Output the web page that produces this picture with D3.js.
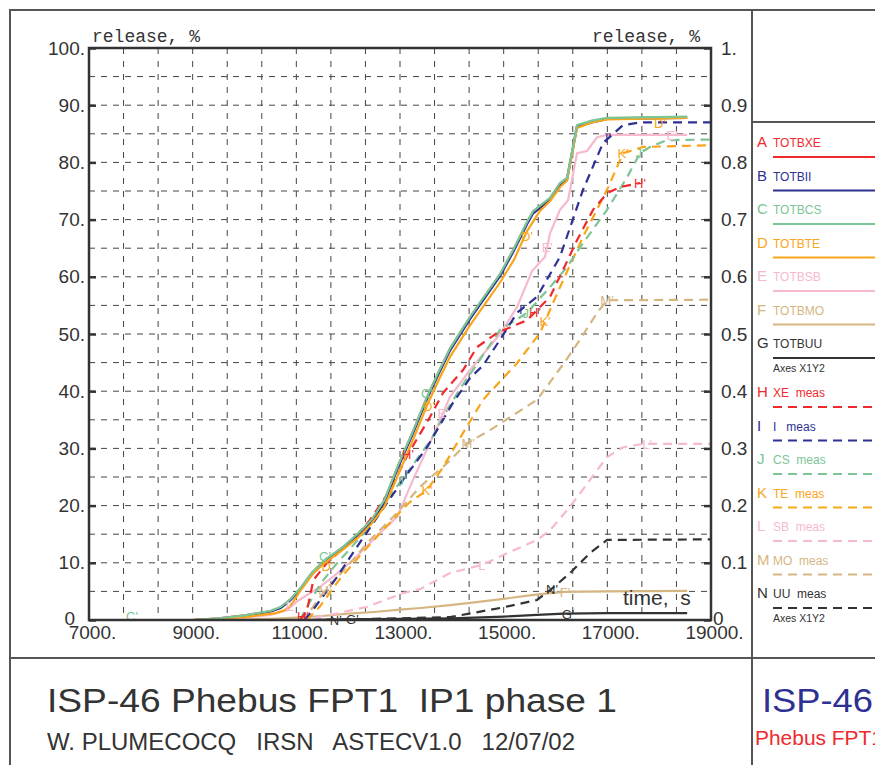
<!DOCTYPE html>
<html>
<head>
<meta charset="utf-8">
<script src="https://cdn.jsdelivr.net/npm/d3@7/dist/d3.min.js"></script>
<style>
  body { margin: 0; background: #fff; }
  svg text { white-space: pre; }
</style>
</head>
<body>
<svg id="chart" width="875" height="765"></svg>
<script>
  // ---- data: [time s, release %] (G and N: fraction, right axis)
  const totbxe = [[7000,0],[9000,0],[9500,0.3],[10000,0.8],[10500,1.5],[10700,2.2],[10880,3.5],[11070,5.4],[11300,8.2],[11550,10.4],[11900,12.7],[12200,15.1],[12450,17.4],[12700,20.9],[12960,26.9],[13250,32.9],[13520,38.9],[13750,43.4],[13965,47.4],[14350,52.9],[14930,60.4],[15200,64.9],[15451,69.5],[15570,71.4],[15895,73.7],[16087,76.3],[16222,77.2],[16415,86.4],[16700,87.2],[17000,87.7],[18540,87.9]];
  const totbii = [[7000,0],[9000,0],[9500,0.2],[10000,0.7],[10500,1.5],[10700,2.1],[10880,3.4],[11070,5.2],[11300,8.0],[11550,10.2],[11900,12.5],[12200,14.9],[12450,17.1],[12700,20.6],[12960,26.6],[13250,32.6],[13520,38.6],[13750,43.1],[13965,47.1],[14350,52.6],[14930,60.1],[15200,64.6],[15451,69.2],[15570,71.1],[15895,73.4],[16087,76.0],[16222,76.9],[16415,86.2],[16700,87.0],[17000,87.6],[18540,87.8]];
  const totbcs = [[7000,0],[9000,0],[9500,0.3],[10000,0.8],[10500,1.6],[10700,2.3],[10880,3.6],[11070,5.5],[11300,8.3],[11550,10.5],[11900,12.8],[12200,15.2],[12450,17.5],[12700,21],[12960,27],[13250,33],[13520,39],[13750,43.5],[13965,47.5],[14350,53],[14930,60.5],[15200,65],[15451,69.6],[15570,71.5],[15895,73.8],[16087,76.4],[16222,77.3],[16415,86.5],[16700,87.3],[17000,87.8],[18540,88]];
  const totbte = [[7000,0],[9000,0],[10000,0.5],[10600,1.2],[10750,1.6],[10880,2.4],[11070,5],[11330,8.2],[11550,10],[11900,12.3],[12200,14.5],[12450,16.8],[12700,19.8],[12960,25.3],[13250,31.5],[13520,37.5],[13750,42],[13965,46],[14350,51.5],[14930,59],[15200,63],[15451,68],[15700,71.5],[15900,73.3],[16100,75.8],[16222,76.8],[16415,86],[16700,87],[17000,87.5],[18540,87.8]];
  const totbsb = [[7000,0],[9000,0],[10000,0.4],[10500,0.9],[10820,1.7],[11000,3.2],[11457,5.8],[11700,7.5],[12094,10.5],[12615,15.2],[12943,18],[13251,24.5],[13714,33.7],[13965,39],[14351,43.7],[14930,50],[15258,54.7],[15547,61],[15798,63.5],[15895,67.6],[16087,71.7],[16242,73.4],[16415,81.6],[16608,82],[16801,84.4],[16994,84.8],[18540,84.8]];
  const totbmo = [[7000,0],[9500,0],[10500,0.2],[11000,0.4],[11500,0.7],[12000,1.1],[12500,1.4],[13000,1.8],[13400,2.1],[13965,2.6],[14351,3],[15000,3.7],[15500,4.3],[15895,4.7],[16164,4.9],[17000,5],[18540,5.1]];
  const totbuu = [[7000,0],[11000,0],[12000,0.001],[13000,0.002],[14000,0.003],[15000,0.006],[15644,0.009],[16164,0.011],[17000,0.012],[18540,0.012]];
  const xeMeas = [[11070,0],[11200,1.5],[11330,7],[11592,10],[12094,14],[12422,17.5],[12808,22.7],[13155,29],[13579,35.5],[13830,39.7],[14216,43.7],[14486,47.7],[14872,50.2],[15451,52.4],[15895,56.5],[16145,61.2],[16415,66.4],[16724,71.7],[16994,74.6],[17245,75.7],[17631,76.4]];
  const iMeas = [[11150,0],[11300,1.5],[11785,7.5],[12171,12.8],[12615,18.7],[13058,24.5],[13521,30.2],[14023,38],[14351,42.3],[14602,44.5],[14930,49],[15258,53.7],[15644,56.5],[16087,63.5],[16531,75.2],[16917,83.4],[17300,86.5],[17630,87],[19000,87]];
  const csMeas = [[11070,0],[11250,3],[11478,6.5],[11727,9.3],[12306,15.2],[12750,21],[13135,25.7],[13598,31.5],[13907,36.7],[14177,40.7],[14370,43.2],[14930,50.7],[15451,53.7],[15895,58.2],[16222,61.7],[16531,65.9],[16994,71.7],[17380,77.4],[17630,81.6],[17823,82.7],[18151,83.9],[19000,84]];
  const teMeas = [[11200,0],[11450,2.3],[11825,7],[12268,11.7],[12731,16.3],[13175,20.5],[13521,22.7],[13830,26.7],[14216,32.7],[14602,38.5],[15258,44.9],[15702,50.2],[16087,58.2],[16531,67],[16994,75.2],[17303,81.6],[17688,82.7],[19000,83]];
  const sbMeas = [[11070,0],[11650,0.9],[12364,2.3],[13058,4.7],[13386,5.4],[13965,8.2],[14351,9.1],[14602,9.7],[15100,11.8],[15644,14],[15895,15.7],[16280,19.8],[16666,24.5],[16994,28.5],[17303,30.2],[17688,30.8],[19000,30.8]];
  const moMeas = [[11070,0],[11300,2],[11553,5.2],[11978,9.3],[12422,14],[12943,18.7],[13386,23.3],[13907,27.4],[14293,30.9],[14737,33.2],[15644,38.5],[16164,44.9],[16473,49],[16801,53.7],[16994,55.9],[19000,56]];
  const uuMeas = [[11300,0],[12500,0.002],[13500,0.004],[13965,0.005],[14930,0.021],[15644,0.035],[15895,0.052],[16280,0.082],[16666,0.117],[16994,0.14],[19000,0.141]];

  // tick values
  const xTicks = [7000, 9000, 11000, 13000, 15000, 17000, 19000];
  const yTicks = [0, 10, 20, 30, 40, 50, 60, 70, 80, 90, 100];
  const y2Ticks = [0, 0.1, 0.2, 0.3, 0.4, 0.5, 0.6, 0.7, 0.8, 0.9, 1];

  // series: letter, legend name, data, colour, dashed, right axis, marker times
  const series = [
    { key: "A", name: "TOTBXE", data: totbxe, color: "#ee2a2e", dash: false, y2: false, marks: [] },
    { key: "B", name: "TOTBII", data: totbii, color: "#2e3192", dash: false, y2: false, marks: [] },
    { key: "C", name: "TOTBCS", data: totbcs, color: "#7cc595", dash: false, y2: false, marks: [7830, 11553, 13521] },
    { key: "D", name: "TOTBTE", data: totbte, color: "#f9a51a", dash: false, y2: false, marks: [11600, 13560, 15451, 18017] },
    { key: "E", name: "TOTBSB", data: totbsb, color: "#f6b9cf", dash: false, y2: false, marks: [10900, 13830, 15840, 18248] },
    { key: "F", name: "TOTBMO", data: totbmo, color: "#d5b682", dash: false, y2: false, marks: [16184] },
    { key: "G", name: "TOTBUU", data: totbuu, color: "#333333", dash: false, y2: true, marks: [12080, 16240] },
    { key: "H", name: "XE  meas", data: xeMeas, color: "#ee2a2e", dash: true, y2: false, marks: [11129, 13155, 15605, 17631] },
    { key: "I", name: "I   meas", data: iMeas, color: "#2e3192", dash: true, y2: false, marks: [13135, 15354, 17014] },
    { key: "J", name: "CS  meas", data: csMeas, color: "#7cc595", dash: true, y2: false, marks: [13039, 15451, 17630] },
    { key: "K", name: "TE  meas", data: teMeas, color: "#f9a51a", dash: true, y2: false, marks: [13521, 15798, 17303] },
    { key: "L", name: "SB  meas", data: sbMeas, color: "#f6b9cf", dash: true, y2: false, marks: [14602, 17766] },
    { key: "M", name: "MO  meas", data: moMeas, color: "#d5b682", dash: true, y2: false, marks: [11553, 14313, 16994] },
    { key: "N", name: "UU  meas", data: uuMeas, color: "#333333", dash: true, y2: true, marks: [11760, 15933] }
  ];

  const svg = d3.select("#chart");
  const frame = "#555";

  // plot box
  const pLeft = 89, pRight = 711, pTop = 48, pBottom = 620;
  const x = d3.scaleLinear().domain([7000, 19000]).range([pLeft, pRight]);
  const y = d3.scaleLinear().domain([0, 100]).range([pBottom, pTop]);
  const y2 = d3.scaleLinear().domain([0, 1]).range([pBottom, pTop]);

  // outer frame
  svg.append("rect").attr("x", 10).attr("y", 10).attr("width", 880).attr("height", 770)
    .attr("fill", "none").attr("stroke", frame).attr("stroke-width", 2);
  svg.append("line").attr("x1", 752).attr("x2", 752).attr("y1", 10).attr("y2", 765)
    .attr("stroke", frame).attr("stroke-width", 2);
  svg.append("line").attr("x1", 10).attr("x2", 875).attr("y1", 658).attr("y2", 658)
    .attr("stroke", frame).attr("stroke-width", 2);
  svg.append("line").attr("x1", 752).attr("x2", 875).attr("y1", 122).attr("y2", 122)
    .attr("stroke", frame).attr("stroke-width", 2);

  // grid
  const gx = d3.range(1, 18).map(i => 7000 + i * 2000 / 3);
  const gy = d3.range(5, 100, 5);
  svg.append("g").selectAll("line").data(gx).join("line")
    .attr("x1", d => x(d)).attr("x2", d => x(d)).attr("y1", pTop).attr("y2", pBottom)
    .attr("stroke", "#444").attr("stroke-width", 1).attr("stroke-dasharray", "6,7");
  svg.append("g").selectAll("line").data(gy).join("line")
    .attr("x1", pLeft).attr("x2", pRight).attr("y1", d => y(d)).attr("y2", d => y(d))
    .attr("stroke", "#444").attr("stroke-width", 1).attr("stroke-dasharray", "6,6");

  // curves
  const line = d3.line();
  const drawOrder = ["G", "F", "E", "N", "M", "L", "K", "J", "I", "H", "A", "B", "D", "C"];
  drawOrder.forEach(k => {
    const s = series.find(d => d.key === k);
    const ys = s.y2 ? y2 : y;
    svg.append("path")
      .attr("d", line(s.data.map(p => [x(p[0]), ys(p[1])])))
      .attr("fill", "none").attr("stroke", s.color).attr("stroke-width", 2.2)
      .attr("stroke-dasharray", s.dash ? "9,6" : null);
  });

  // curve markers (letters on the curves)
  function valueAt(data, t) {
    for (let i = 1; i < data.length; i++) {
      if (t <= data[i][0]) {
        const a = data[i - 1], b = data[i];
        return a[1] + (b[1] - a[1]) * (t - a[0]) / (b[0] - a[0]);
      }
    }
    return data[data.length - 1][1];
  }
  // C letters sit just above the D letters
  const markLift = { C: -4, D: 5 };
  series.forEach(s => {
    const ys = s.y2 ? y2 : y;
    const lift = markLift[s.key] || 0;
    svg.append("g").selectAll("text").data(s.marks).join("text")
      .attr("x", t => x(t)).attr("y", t => ys(valueAt(s.data, t)) + 5 + lift)
      .attr("text-anchor", "middle")
      .attr("font-family", "Liberation Sans Narrow, Arial Narrow, sans-serif")
      .attr("font-size", 13).attr("fill", s.color)
      .text(s.key + "'");
  });

  // plot box border
  svg.append("rect").attr("x", pLeft).attr("y", pTop).attr("width", pRight - pLeft).attr("height", pBottom - pTop)
    .attr("fill", "none").attr("stroke", "#333").attr("stroke-width", 2.5);

  // axes
  const tickFont = "Liberation Sans, Arial, sans-serif";
  const ax = svg.append("g").attr("transform", `translate(0,${pBottom})`)
    .call(d3.axisBottom(x).tickValues(xTicks).tickSize(0).tickPadding(6).tickFormat(d => d + "."));
  const ay = svg.append("g").attr("transform", `translate(${pLeft},0)`)
    .call(d3.axisLeft(y).tickValues(yTicks).tickSize(6).tickPadding(-2).tickFormat(d => d === 0 ? "0" : d + "."));
  const ay2 = svg.append("g").attr("transform", `translate(${pRight},0)`)
    .call(d3.axisRight(y2).tickValues(y2Ticks).tickSize(-7).tickPadding(10)
      .tickFormat(d => d === 0 ? "0" : d === 1 ? "1." : d.toFixed(1)));
  [ax, ay, ay2].forEach(g => {
    g.select(".domain").remove();
    g.selectAll(".tick line").attr("stroke", "#333").attr("stroke-width", 2.5);
    g.selectAll("text").attr("font-family", tickFont).attr("font-size", 19).attr("fill", "#333");
  });
  ay.selectAll(".tick line").attr("x2", 7);
  ax.selectAll("text").attr("dx", 3);
  ay.selectAll("text").filter(d => d === 0).attr("dx", -10).attr("dy", "0.25em");
  ay2.selectAll("text").filter(d => d === 0).attr("dx", -8).attr("dy", "0.25em");

  // axis titles
  svg.append("text").attr("x", 92).attr("y", 42).attr("font-family", "Liberation Mono, monospace")
    .attr("font-size", 18).attr("fill", "#333").text("release, %");
  svg.append("text").attr("x", 700).attr("y", 42).attr("text-anchor", "end")
    .attr("font-family", "Liberation Mono, monospace").attr("font-size", 18).attr("fill", "#333").text("release, %");
  svg.append("text").attr("x", 623).attr("y", 605).attr("font-family", tickFont)
    .attr("font-size", 21).attr("fill", "#333").text("time,  s");

  // legend
  const legFont = "Liberation Sans, Arial, sans-serif";
  series.forEach((s, i) => {
    const cy = i < 7 ? 142 + i * 33.5 : 392 + (i - 7) * 33.5;
    const g = svg.append("g");
    g.append("text").attr("x", 757).attr("y", cy + 5).attr("font-family", legFont)
      .attr("font-size", 15).attr("fill", s.color).text(s.key);
    g.append("text").attr("x", 773).attr("y", cy + 5).attr("font-family", legFont)
      .attr("font-size", 12).attr("fill", s.color).text(s.name);
    g.append("line").attr("x1", 773).attr("x2", 875).attr("y1", cy + 15).attr("y2", cy + 15)
      .attr("stroke", s.color).attr("stroke-width", 2)
      .attr("stroke-dasharray", s.dash ? "9,6" : null);
    if (s.y2) {
      g.append("text").attr("x", 773).attr("y", cy + 29).attr("font-family", legFont)
        .attr("font-size", 10.5).attr("fill", "#333").text("Axes X1Y2");
    }
  });

  // title block
  const titleFont = "Liberation Sans Narrow, Arial Narrow, sans-serif";
  svg.append("text").attr("x", 47).attr("y", 712).attr("font-family", titleFont)
    .attr("font-size", 33).attr("fill", "#333")
    .attr("textLength", 570).attr("lengthAdjust", "spacingAndGlyphs")
    .text("ISP-46 Phebus FPT1  IP1 phase 1");
  svg.append("text").attr("x", 47).attr("y", 750).attr("font-family", titleFont)
    .attr("font-size", 23).attr("fill", "#333")
    .attr("textLength", 528).attr("lengthAdjust", "spacingAndGlyphs")
    .text("W. PLUMECOCQ   IRSN   ASTECV1.0   12/07/02");
  svg.append("text").attr("x", 762).attr("y", 712).attr("font-family", titleFont)
    .attr("font-size", 33).attr("fill", "#2e3192")
    .attr("textLength", 111).attr("lengthAdjust", "spacingAndGlyphs")
    .text("ISP-46");
  svg.append("text").attr("x", 755).attr("y", 745).attr("font-family", titleFont)
    .attr("font-size", 20).attr("fill", "#ee2a2e")
    .attr("textLength", 128).attr("lengthAdjust", "spacingAndGlyphs")
    .text("Phebus FPT1");
</script>
</body>
</html>
